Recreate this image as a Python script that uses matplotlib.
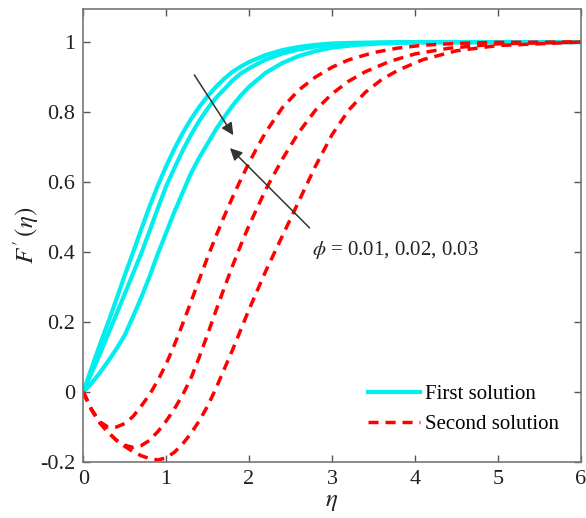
import numpy as np
import matplotlib
matplotlib.use("Agg")
import matplotlib.pyplot as plt

plt.rcParams['font.family'] = ['Liberation Serif', 'DejaVu Serif']
plt.rcParams['mathtext.fontset'] = 'stix'

# first solution (phi = 0.01, 0.02, 0.03)
eta_f1 = [0, 0.1, 0.2, 0.3, 0.4, 0.5, 0.6, 0.7, 0.8, 0.9, 1.0, 1.1, 1.2, 1.3, 1.4, 1.5,
          1.6, 1.7, 1.8, 1.9, 2.0, 2.2, 2.4, 2.6, 2.8, 3.0, 3.3, 3.6, 4.0, 6.0]
F_f1 = [0, 0.068, 0.135, 0.198, 0.265, 0.333, 0.398, 0.465, 0.53, 0.59, 0.645, 0.695, 0.74,
        0.78, 0.815, 0.845, 0.872, 0.895, 0.915, 0.93, 0.943, 0.963, 0.977, 0.986, 0.992,
        0.996, 0.998, 0.999, 1.0, 1.0]
eta_f2 = [0, 0.1, 0.2, 0.3, 0.4, 0.5, 0.6, 0.7, 0.8, 0.9, 1.0, 1.1, 1.2, 1.3, 1.4, 1.5,
          1.6, 1.7, 1.8, 1.9, 2.0, 2.2, 2.4, 2.6, 2.8, 3.0, 3.3, 3.6, 4.0, 6.0]
F_f2 = [0, 0.054, 0.108, 0.165, 0.222, 0.28, 0.338, 0.396, 0.46, 0.525, 0.588, 0.64, 0.69,
        0.735, 0.775, 0.81, 0.84, 0.865, 0.89, 0.91, 0.925, 0.95, 0.967, 0.979, 0.987,
        0.992, 0.996, 0.998, 1.0, 1.0]
eta_f3 = [0, 0.1, 0.2, 0.3, 0.4, 0.5, 0.6, 0.7, 0.8, 0.9, 1.0, 1.1, 1.2, 1.3, 1.4, 1.5,
          1.6, 1.7, 1.8, 1.9, 2.0, 2.2, 2.4, 2.6, 2.8, 3.0, 3.3, 3.6, 4.0, 6.0]
F_f3 = [0, 0.025, 0.055, 0.088, 0.123, 0.162, 0.215, 0.27, 0.33, 0.395, 0.455, 0.515, 0.57,
        0.625, 0.67, 0.71, 0.75, 0.785, 0.818, 0.847, 0.872, 0.912, 0.94, 0.96, 0.974,
        0.984, 0.992, 0.996, 0.999, 1.0]

# second solution
eta_s1 = [0, 0.1, 0.2, 0.3, 0.4, 0.5, 0.6, 0.7, 0.8, 0.9, 1.0, 1.1, 1.2, 1.3, 1.4, 1.5,
          1.6, 1.7, 1.8, 1.9, 2.0, 2.1, 2.2, 2.4, 2.6, 2.8, 3.0, 3.2, 3.5, 3.8, 4.1, 4.5,
          5.0, 6.0]
F_s1 = [0, -0.05, -0.085, -0.1, -0.1, -0.09, -0.07, -0.04, -0.007, 0.033, 0.08, 0.135,
        0.195, 0.258, 0.322, 0.385, 0.445, 0.502, 0.556, 0.607, 0.655, 0.70, 0.742, 0.812,
        0.863, 0.90, 0.928, 0.949, 0.97, 0.983, 0.991, 0.996, 0.999, 1.0]
eta_s2 = [0, 0.1, 0.2, 0.3, 0.4, 0.5, 0.6, 0.7, 0.8, 0.9, 1.0, 1.1, 1.2, 1.3, 1.4, 1.5,
          1.6, 1.7, 1.8, 1.9, 2.0, 2.2, 2.4, 2.6, 2.8, 3.0, 3.2, 3.4, 3.7, 4.0, 4.4, 5.0, 6.0]
F_s2 = [0, -0.05, -0.088, -0.115, -0.138, -0.152, -0.158, -0.153, -0.138, -0.113, -0.083,
        -0.048, -0.008, 0.04, 0.1, 0.165, 0.232, 0.297, 0.36, 0.42, 0.476, 0.578, 0.665,
        0.742, 0.805, 0.852, 0.888, 0.915, 0.945, 0.966, 0.982, 0.995, 1.0]
eta_s3 = [0, 0.1, 0.2, 0.3, 0.4, 0.5, 0.6, 0.7, 0.8, 0.9, 1.0, 1.1, 1.2, 1.3, 1.4, 1.5,
          1.6, 1.7, 1.8, 1.9, 2.0, 2.2, 2.4, 2.6, 2.8, 3.0, 3.2, 3.4, 3.6, 3.8, 4.1, 4.5,
          5.0, 6.0]
F_s3 = [0, -0.05, -0.088, -0.115, -0.137, -0.155, -0.17, -0.182, -0.19, -0.194, -0.188,
        -0.172, -0.148, -0.118, -0.082, -0.04, 0.01, 0.065, 0.12, 0.178, 0.236, 0.345,
        0.445, 0.545, 0.645, 0.735, 0.805, 0.856, 0.893, 0.92, 0.95, 0.975, 0.99, 1.0]

xticks = [0, 1, 2, 3, 4, 5, 6]
yticks = [-0.2, 0, 0.2, 0.4, 0.6, 0.8, 1]
ytick_labels = ['-0.2', '0', '0.2', '0.4', '0.6', '0.8', '1']

fig = plt.figure(figsize=(5.86, 5.18), dpi=100)
ax = fig.add_axes([0.142, 0.108, 0.849, 0.875])

cy = '#00eeee'
ax.plot(eta_f1, F_f1, color=cy, lw=3, label='First solution')
ax.plot(eta_f2, F_f2, color=cy, lw=3)
ax.plot(eta_f3, F_f3, color=cy, lw=3)

ax.plot(eta_s1, F_s1, color='red', lw=2.5, dashes=(2.9, 2), label='Second solution')
ax.plot(eta_s2, F_s2, color='red', lw=2.5, dashes=(2.9, 2))
ax.plot(eta_s3, F_s3, color='red', lw=2.5, dashes=(2.9, 2))

ax.set_xlim(0, 6)
ax.set_ylim(-0.2, 1.095)
ax.set_xticks(xticks)
ax.set_yticks(yticks)
ax.set_yticklabels(ytick_labels)
ax.tick_params(direction='in', top=True, right=True, length=5, width=1,
               labelsize=16, colors='#555555', labelcolor='#222222', pad=6)
for s in ax.spines.values():
    s.set_color('#777777')
    s.set_linewidth(1.2)

ax.set_xlabel(r'$\eta$', fontsize=18, labelpad=1, color='#222222')
ax.set_ylabel(r"$F\,'\,(\eta)$", fontsize=18, labelpad=-1, color='#222222')

arrow_kw = dict(arrowstyle='-|>', color='#333333', lw=1.1, mutation_scale=18,
                shrinkA=0, shrinkB=0)
ax.annotate('', xy=(1.81, 0.734), xytext=(1.34, 0.906), arrowprops=arrow_kw)
ax.annotate('', xy=(1.77, 0.697), xytext=(2.73, 0.469), arrowprops=arrow_kw)
ax.text(2.755, 0.406, r'$\phi$ = 0.01, 0.02, 0.03', fontsize=15, ha='left', va='center',
        color='#222222')

leg = ax.legend(loc='lower right', bbox_to_anchor=(0.986, 0.029), frameon=False, fontsize=15,
                handlelength=2.5, handletextpad=0.25, labelspacing=0.5, borderaxespad=0.3)

fig.savefig('out.png', dpi=100)
